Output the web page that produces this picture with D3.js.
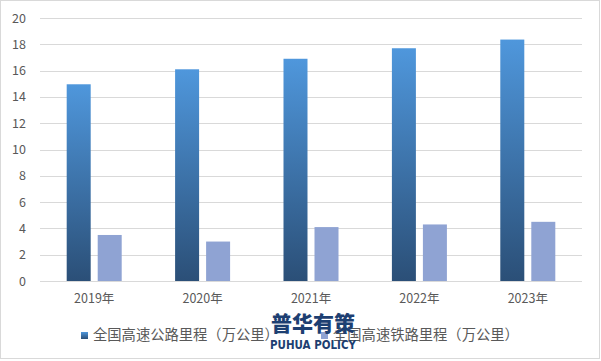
<!DOCTYPE html>
<html><head><meta charset="utf-8">
<script src="https://cdn.jsdelivr.net/npm/d3@7/dist/d3.min.js"></script>
<style>body{margin:0;background:#fff}svg{display:block}</style>
</head><body>
<svg id="c" width="601" height="361"></svg>
<script>
const categories = ["2019年","2020年","2021年","2022年","2023年"];
const seriesNames = ["全国高速公路里程（万公里）","全国高速铁路里程（万公里）"];
const highway = [14.96, 16.1, 16.9, 17.7, 18.36];
const railway = [3.5, 3.0, 4.1, 4.3, 4.5];
const yTicks = [0,2,4,6,8,10,12,14,16,18,20];

(function(){
const svg = d3.select("#c");
const font = "'Microsoft YaHei','Noto Sans CJK SC','DejaVu Sans',sans-serif";
const defs = svg.append("defs");
const g1 = defs.append("linearGradient").attr("id","hw").attr("x1",0).attr("y1",0).attr("x2",0).attr("y2",1);
g1.append("stop").attr("offset","0%").attr("stop-color","#4f97dc");
g1.append("stop").attr("offset","100%").attr("stop-color","#2b4f77");

svg.append("rect").attr("x",0.5).attr("y",0.5).attr("width",599).attr("height",358)
  .attr("fill","#fff").attr("stroke","#d9d9d9");

const pL = 40, pR = 582, pT = 18, pB = 281;
const y = d3.scaleLinear().domain([0,20]).range([pB, pT]);
const x0 = d3.scaleBand().domain(categories).range([pL, pR]).padding(0);
const x1 = d3.scaleBand().domain([0,1]).range([0, x0.bandwidth()]).paddingInner(0.226).paddingOuter(0.861);

// grid
svg.append("g").selectAll("line").data(yTicks).join("line")
  .attr("x1",pL).attr("x2",pR).attr("y1",d=>Math.round(y(d))+0.5).attr("y2",d=>Math.round(y(d))+0.5)
  .attr("stroke","#d9d9d9").attr("stroke-width",1);

// y labels
const yAxis = d3.axisLeft(y).tickValues(yTicks).tickSize(0).tickPadding(0);
const ya = svg.append("g").attr("transform",`translate(${pL-14},0)`).call(yAxis);
ya.select(".domain").remove();
ya.selectAll("text").attr("fill","#595959").style("font-family",font).style("font-size","12.5px");

// x labels
const xAxis = d3.axisBottom(x0).tickSize(0).tickPadding(0);
const xa = svg.append("g").attr("transform",`translate(0,${pB+13.5})`).call(xAxis);
xa.select(".domain").remove();
xa.selectAll("text").attr("fill","#595959").style("font-family",font).style("font-size","12.5px");

// bars
svg.append("g").selectAll("rect").data(highway).join("rect")
  .attr("x",(d,i)=>x0(categories[i])+x1(0)).attr("width",x1.bandwidth())
  .attr("y",d=>y(d)).attr("height",d=>y(0)-y(d)).attr("fill","url(#hw)");
svg.append("g").selectAll("rect").data(railway).join("rect")
  .attr("x",(d,i)=>x0(categories[i])+x1(1)).attr("width",x1.bandwidth())
  .attr("y",d=>y(d)).attr("height",d=>y(0)-y(d)).attr("fill","#8fa3d3");

// legend
const legend = [{x:81, fill:"url(#hw)"},{x:321, fill:"#8fa3d3"}];
legend.forEach((l,i)=>{
  svg.append("rect").attr("x",l.x).attr("y",332).attr("width",7).attr("height",7).attr("fill",l.fill);
  svg.append("text").attr("x",l.x+12).attr("y",340).text(seriesNames[i])
    .attr("fill","#595959").style("font-family",font).style("font-size","14.3px");
});

// watermark
svg.append("text").attr("x",313).attr("y",330.5).attr("text-anchor","middle").text("普华有策")
  .attr("fill","#1d3f72").style("font-family",font).style("font-weight","900").style("font-size","21px");
svg.append("text").attr("x",313).attr("y",349).attr("text-anchor","middle").text("PUHUA POLICY")
  .attr("fill","#1d3f72").style("font-family","'Liberation Sans Narrow','DejaVu Sans Condensed',sans-serif").style("font-weight","bold").style("font-size","12.5px")
  .attr("textLength",86).attr("lengthAdjust","spacingAndGlyphs");
})();
</script>
</body></html>
